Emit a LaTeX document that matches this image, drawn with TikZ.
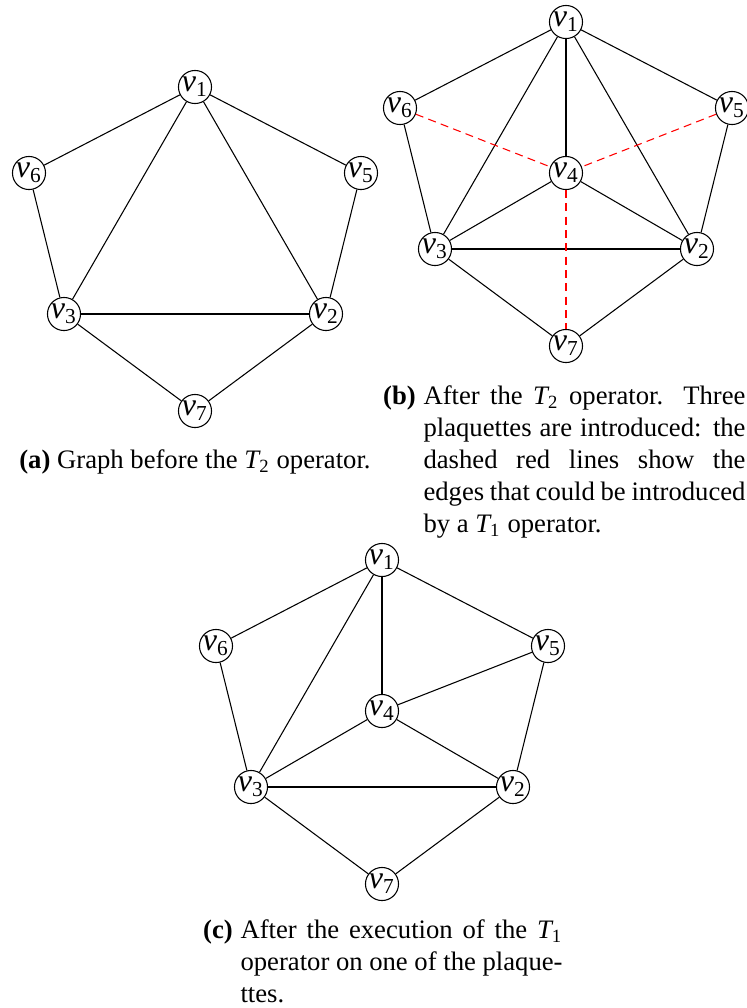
\documentclass[tikz,border=0pt]{standalone}
\usepackage{amsmath}
\usepackage{fontspec}
\setmainfont{Liberation Serif}
\newcommand{\nv}[1]{$\textit{v}_{\text{#1}}$}
\newcommand{\nT}[1]{$\textit{T}_{\text{#1}}$}
\tikzset{
  vert/.style={draw, circle, inner sep=0pt, minimum size=12.4pt, font=\fontsize{12}{14}\selectfont},
  link/.style={line width=0.4pt},
  candidate/.style={red, dash pattern=on 3pt off 2pt},
  capline/.style={inner sep=0pt, font=\fontsize{10}{12}\selectfont},
  captext/.style={inner sep=0pt, text width=120.75pt, align=justify, font=\fontsize{10}{12}\selectfont},
}
\begin{document}
\begin{tikzpicture}[x=0.375pt, y=-0.375pt]
\useasboundingbox (0,0) rectangle (747,1008);
% (a) before T2
\node[vert] (a1) at (195,87) {\nv{1}};
\node[vert] (a6) at (29,173) {\nv{6}};
\node[vert] (a5) at (361,173) {\nv{5}};
\node[vert] (a3) at (64,314) {\nv{3}};
\node[vert] (a2) at (326,314) {\nv{2}};
\node[vert] (a7) at (195,411) {\nv{7}};
\draw[link] (a1) -- (a6);
\draw[link] (a1) -- (a5);
\draw[link] (a1) -- (a3);
\draw[link] (a1) -- (a2);
\draw[link] (a6) -- (a3);
\draw[link] (a5) -- (a2);
\draw[link] (a3) -- (a2);
\draw[link] (a3) -- (a7);
\draw[link] (a2) -- (a7);
\node[capline, anchor=base] (capa) at (195,468) {\textbf{(a)} Graph before the \nT{2} operator.};
% (b) after T2
\node[vert] (b1) at (566,22) {\nv{1}};
\node[vert] (b6) at (400,108) {\nv{6}};
\node[vert] (b5) at (732,108) {\nv{5}};
\node[vert] (b4) at (566,173) {\nv{4}};
\node[vert] (b3) at (435,249) {\nv{3}};
\node[vert] (b2) at (697,249) {\nv{2}};
\node[vert] (b7) at (566,346) {\nv{7}};
\draw[link] (b1) -- (b6);
\draw[link] (b1) -- (b5);
\draw[link] (b1) -- (b3);
\draw[link] (b1) -- (b2);
\draw[link] (b1) -- (b4);
\draw[link] (b6) -- (b3);
\draw[link] (b5) -- (b2);
\draw[link] (b4) -- (b3);
\draw[link] (b4) -- (b2);
\draw[link] (b3) -- (b2);
\draw[link] (b3) -- (b7);
\draw[link] (b2) -- (b7);
\draw[candidate] (b6) -- (b4);
\draw[candidate] (b5) -- (b4);
\draw[candidate] (b4) -- (b7);
\node[captext, anchor=base west] (capb) at (423,404) {After the \nT{2} operator. Three\linebreak
  plaquettes are introduced: the\linebreak dashed red lines show the\linebreak
  edges that could be introduced\linebreak by a \nT{1} operator.};
\node[capline, anchor=base east, font=\fontsize{10}{12}\selectfont\bfseries] (labb) at ([xshift=-2.5pt]capb.base west) {(b)};
% (c) after T1
\node[vert] (c1) at (382,560) {\nv{1}};
\node[vert] (c6) at (216,646) {\nv{6}};
\node[vert] (c5) at (548,646) {\nv{5}};
\node[vert] (c4) at (382,711) {\nv{4}};
\node[vert] (c3) at (251,787) {\nv{3}};
\node[vert] (c2) at (513,787) {\nv{2}};
\node[vert] (c7) at (382,884) {\nv{7}};
\draw[link] (c1) -- (c6);
\draw[link] (c1) -- (c5);
\draw[link] (c1) -- (c3);
\draw[link] (c1) -- (c4);
\draw[link] (c6) -- (c3);
\draw[link] (c5) -- (c2);
\draw[link] (c4) -- (c5);
\draw[link] (c4) -- (c3);
\draw[link] (c4) -- (c2);
\draw[link] (c3) -- (c2);
\draw[link] (c3) -- (c7);
\draw[link] (c2) -- (c7);
\node[captext, anchor=base west] (capc) at (240,938) {After the execution of the \nT{1}\linebreak
  operator on one of the plaque-\linebreak ttes.};
\node[capline, anchor=base east, font=\fontsize{10}{12}\selectfont\bfseries] (labc) at ([xshift=-2.5pt]capc.base west) {(c)};
\end{tikzpicture}
\end{document}
